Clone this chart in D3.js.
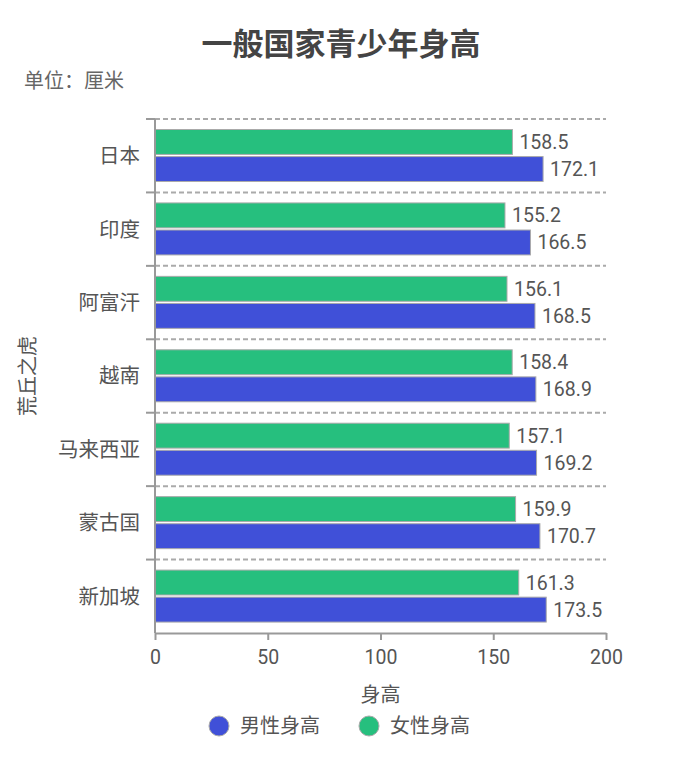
<!DOCTYPE html>
<html>
<head>
<meta charset="utf-8">
<script src="https://cdn.jsdelivr.net/npm/d3@7"></script>
<style>
  html, body { margin: 0; padding: 0; background: #fff; }
  svg text { font-family: Roboto, "Noto Sans CJK SC", sans-serif; }
</style>
</head>
<body>
<div id="chart"></div>
<script>
// Chart data (cm)
const countries = ['日本', '印度', '阿富汗', '越南', '马来西亚', '蒙古国', '新加坡'];
const maleHeights = [172.1, 166.5, 168.5, 168.9, 169.2, 170.7, 173.5];
const femaleHeights = [158.5, 155.2, 156.1, 158.4, 157.1, 159.9, 161.3];
const seriesNames = ['男性身高', '女性身高'];
const xTicks = [0, 50, 100, 150, 200];

const WIDTH = 690;
const HEIGHT = 761;
const colors = { '男性身高': '#4050d8', '女性身高': '#26bf7e' };

const svg = d3.select('#chart').append('svg')
  .attr('width', WIDTH)
  .attr('height', HEIGHT);

const x = d3.scaleLinear().domain([0, 200]).range([155, 606]);
const y = d3.scaleBand().domain(countries).range([119, 633]).padding(0);
// female bar sits on top of the male bar inside each band
const inner = d3.scaleBand().domain(['女性身高', '男性身高'])
  .range([10.5, 62.5]).paddingInner(0.08);

// Title + unit
svg.append('text')
  .attr('x', 341).attr('y', 55)
  .attr('text-anchor', 'middle')
  .attr('font-size', 31).attr('font-weight', 'bold')
  .attr('fill', '#444')
  .text('一般国家青少年身高');

svg.append('text')
  .attr('x', 24).attr('y', 88)
  .attr('font-size', 20).attr('fill', '#666')
  .text('单位：厘米');

// Dashed separators between categories
svg.append('g').selectAll('line')
  .data(countries)
  .join('line')
  .attr('x1', x(0)).attr('x2', x(200))
  .attr('y1', d => y(d)).attr('y2', d => y(d))
  .attr('stroke', '#aaa')
  .attr('stroke-width', 2)
  .attr('stroke-dasharray', '5,3');

// Bars
const rows = countries.map((c, i) => ({
  country: c,
  values: [
    { key: '女性身高', value: femaleHeights[i] },
    { key: '男性身高', value: maleHeights[i] }
  ]
}));

const groups = svg.append('g').selectAll('g')
  .data(rows)
  .join('g')
  .attr('transform', d => `translate(0,${y(d.country)})`);

groups.selectAll('rect')
  .data(d => d.values)
  .join('rect')
  .attr('x', x(0))
  .attr('y', d => inner(d.key))
  .attr('width', d => x(d.value) - x(0))
  .attr('height', inner.bandwidth())
  .attr('fill', d => colors[d.key])
  .attr('stroke', '#aaa')
  .attr('stroke-width', 1);

groups.selectAll('text.val')
  .data(d => d.values)
  .join('text')
  .attr('class', 'val')
  .attr('x', d => x(d.value) + 7)
  .attr('y', d => inner(d.key) + inner.bandwidth() / 2)
  .attr('dy', '0.36em')
  .attr('font-size', 19.5)
  .attr('fill', '#555')
  .text(d => d.value.toFixed(1));

// Y axis: line, ticks at band boundaries, labels at centers
const yAxis = svg.append('g');
yAxis.append('line')
  .attr('x1', x(0)).attr('x2', x(0))
  .attr('y1', 119).attr('y2', 633)
  .attr('stroke', '#999').attr('stroke-width', 2);
yAxis.selectAll('line.tick')
  .data(countries)
  .join('line')
  .attr('class', 'tick')
  .attr('x1', x(0) - 9).attr('x2', x(0))
  .attr('y1', d => y(d)).attr('y2', d => y(d))
  .attr('stroke', '#999').attr('stroke-width', 2);
yAxis.selectAll('text')
  .data(countries)
  .join('text')
  .attr('x', 140)
  .attr('y', d => y(d) + y.bandwidth() / 2)
  .attr('dy', '0.36em')
  .attr('text-anchor', 'end')
  .attr('font-size', 20.5)
  .attr('fill', '#555')
  .text(d => d);

// X axis
const xAxis = svg.append('g')
  .attr('transform', 'translate(0,633)')
  .call(d3.axisBottom(x).tickValues(xTicks).tickSize(7).tickSizeOuter(0).tickPadding(10));
xAxis.select('.domain').attr('stroke', '#999').attr('stroke-width', 2);
xAxis.selectAll('.tick line').attr('stroke', '#999').attr('stroke-width', 2);
xAxis.selectAll('.tick text')
  .attr('font-size', 19.5)
  .attr('font-family', 'Roboto, sans-serif')
  .attr('fill', '#555');

// Axis titles
svg.append('text')
  .attr('x', x(100)).attr('y', 702)
  .attr('text-anchor', 'middle')
  .attr('font-size', 20).attr('fill', '#555')
  .text('身高');

svg.append('text')
  .attr('transform', 'translate(35,376) rotate(-90)')
  .attr('text-anchor', 'middle')
  .attr('font-size', 20).attr('fill', '#555')
  .text('荒丘之虎');

// Legend
const legendX = [219, 369];
const legend = svg.append('g').selectAll('g')
  .data(seriesNames)
  .join('g')
  .attr('transform', (d, i) => `translate(${legendX[i]},726)`);
legend.append('circle')
  .attr('r', 10)
  .attr('fill', d => colors[d])
  .attr('stroke', '#aaa').attr('stroke-width', 1);
legend.append('text')
  .attr('x', 21)
  .attr('dy', '0.36em')
  .attr('font-size', 20).attr('fill', '#555')
  .text(d => d);
</script>
</body>
</html>
